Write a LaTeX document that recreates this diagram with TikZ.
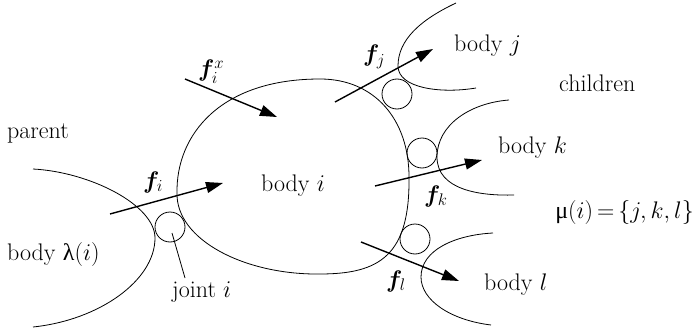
\RequirePackage{fix-cm}
\documentclass[tikz,border=0pt]{standalone}
\usepackage{amsmath}
\usepackage{bm}
\usepackage{fontspec}
\newfontfamily\grk{Liberation Serif}
\usetikzlibrary{arrows.meta}
\tikzset{
  lbl/.style={inner sep=0pt,font=\fontsize{24}{28}\selectfont},
  outline/.style={line width=0.8pt},
  force/.style={line width=1.4pt,-{Triangle[length=17pt,width=11pt]}},
  joint/.style={circle,draw,line width=0.8pt,minimum size=30pt,inner sep=0pt},
  leader/.style={line width=0.8pt}
}
\begin{document}
\begin{tikzpicture}[x=1pt,y=-1pt]
\useasboundingbox (0,0) rectangle (696,329);
% body i
\draw[outline] (177,193) .. controls (176,135) and (220,79) .. (320,79)
  .. controls (375,79) and (409,120) .. (409,177)
  .. controls (410,255) and (380,274) .. (320,274)
  .. controls (245,275) and (176,240) .. cycle;
% parent body
\draw[outline] (33,169) .. controls (90,172) and (155,205) .. (155,238)
  .. controls (155,280) and (100,320) .. (33,327);
% body j
\draw[outline] (456,3) .. controls (420,20) and (398,40) .. (398,66)
  .. controls (398,88) and (440,94) .. (476,88);
% body k
\draw[outline] (509,100) .. controls (470,103) and (437,125) .. (437,157)
  .. controls (437,190) and (480,196) .. (514,195);
% body l
\draw[outline] (493,233) .. controls (455,235) and (421,250) .. (421,277)
  .. controls (421,300) and (450,320) .. (491,325);
% joints
\node[joint] (ji) at (170,227) {};
\node[joint] (jj) at (397,94) {};
\node[joint] (jk) at (422,153) {};
\node[joint] (jl) at (415,239) {};
% force arrows
\coordinate (fxs) at (185,79);  \coordinate (fxe) at (277,117);
\coordinate (fis) at (110,214); \coordinate (fie) at (223,183);
\coordinate (fjs) at (335,102); \coordinate (fje) at (433,49);
\coordinate (fks) at (375,186); \coordinate (fke) at (482,160);
\coordinate (fls) at (361,242); \coordinate (fle) at (459,281);
\draw[force] (fxs) -- (fxe);
\draw[force] (fis) -- (fie);
\draw[force] (fjs) -- (fje);
\draw[force] (fks) -- (fke);
\draw[force] (fls) -- (fle);
% labels
\node[lbl,anchor=base west] (tparent) at (7,138) {parent};
\node[lbl,anchor=base west] (tbodyi) at (261,191) {body $i$};
\node[lbl,anchor=base west] (tbodyp) at (7,260) {body {\grk λ}($i$)};
\node[lbl,anchor=base west] (tjoint) at (172,297) {joint $i$};
\node[lbl,anchor=base west] (tfi) at (143,188) {$\bm{f}_i$};
\node[lbl,anchor=base west] (tfx) at (198,77) {$\bm{f}_i^x$};
\node[lbl,anchor=base west] (tbodyj) at (454,52) {body $j$};
\node[lbl,anchor=base west] (tchild) at (559,92) {children};
\node[lbl,anchor=base west] (tbodyk) at (498,153) {body $k$};
\node[lbl,anchor=base east] (tmu) at (694,218) {{\grk μ}($i$)\,=\,$\{j,k,l\}$};
\node[lbl,anchor=base west] (tbodyl) at (484,290) {body $l$};
\node[lbl,anchor=base west] (tfj) at (363,62) {$\bm{f}_j$};
\node[lbl,anchor=base west] (tfk) at (424,202) {$\bm{f}_k$};
\node[lbl,anchor=base west] (tfl) at (386,287) {$\bm{f}_l$};
% leader
\coordinate (lds) at (172,233);
\coordinate (lde) at (185,278);
\draw[leader] (lds) -- (lde);
\end{tikzpicture}
\end{document}
